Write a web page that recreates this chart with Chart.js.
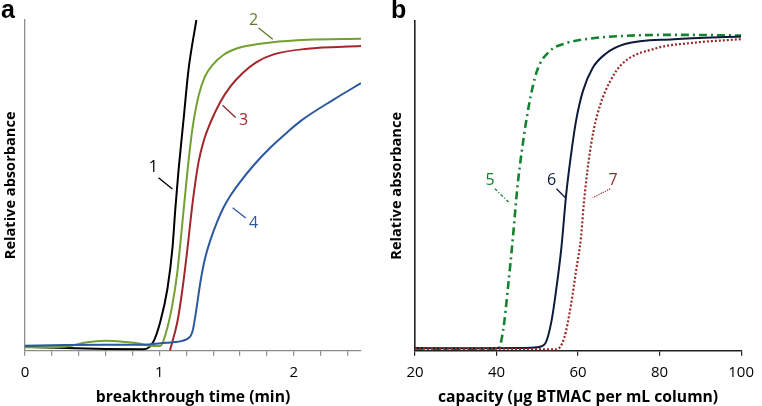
<!DOCTYPE html>
<html><head><meta charset="utf-8">
<script src="https://cdn.jsdelivr.net/npm/chart.js@4.4.1/dist/chart.umd.min.js"></script>
<style>
html,body{margin:0;padding:0;background:#fff;}
body{width:762px;height:406px;overflow:hidden;position:relative;}
.panel{position:absolute;top:0;width:381px;height:406px;}
</style></head><body>
<div class="panel" style="left:0"><canvas id="ca" width="381" height="406"></canvas></div>
<div class="panel" style="left:381px"><canvas id="cb" width="381" height="406"></canvas></div>
<script>
// ---------- Panel a: breakthrough time (min) vs relative absorbance ----------
const timeTicks = [0, 0.2, 0.4, 0.6, 0.8, 1, 1.2, 1.4, 1.6, 1.8, 2, 2.2, 2.4];
const timeTickLabels = ['0', '', '', '', '', '1', '', '', '', '', '2', '', ''];

const time1 = [0, 0.3, 0.6, 0.881, 0.955, 1.007, 1.06, 1.097, 1.119, 1.142, 1.179, 1.216, 1.275];
const abs1  = [0.012, 0.008, 0.005, 0.004, 0.027, 0.088, 0.188, 0.31, 0.432, 0.544, 0.696, 0.848, 1.0];

const time2 = [0, 0.3, 0.45, 0.6, 0.75, 0.858, 0.95, 1.007, 1.045, 1.097, 1.134, 1.172, 1.209, 1.246, 1.291, 1.34, 1.4, 1.478, 1.57, 1.657, 1.828, 2.1, 2.5];
const abs2  = [0.01, 0.012, 0.025, 0.03, 0.026, 0.021, 0.014, 0.014, 0.049, 0.14, 0.24, 0.392, 0.544, 0.672, 0.77, 0.83, 0.866, 0.895, 0.913, 0.922, 0.932, 0.94, 0.943];

const time3 = [1.078, 1.134, 1.172, 1.209, 1.246, 1.291, 1.33, 1.38, 1.45, 1.53, 1.62, 1.72, 1.85, 2.1, 2.5];
const abs3  = [0, 0.088, 0.188, 0.31, 0.444, 0.57, 0.635, 0.69, 0.75, 0.8, 0.84, 0.872, 0.896, 0.913, 0.921];

const time4 = [0, 0.3, 0.6, 0.858, 1.05, 1.209, 1.246, 1.269, 1.306, 1.34, 1.38, 1.43, 1.48, 1.53, 1.6, 1.7, 1.828, 1.95, 2.052, 2.299, 2.5];
const abs4  = [0.015, 0.017, 0.018, 0.018, 0.024, 0.036, 0.058, 0.109, 0.21, 0.28, 0.335, 0.39, 0.435, 0.47, 0.51, 0.56, 0.615, 0.66, 0.695, 0.76, 0.809];

// ---------- Panel b: capacity vs relative absorbance ----------
const capTicks = [20, 40, 60, 80, 100];
const capTickLabels = ['20', '40', '60', '80', '100'];

const cap5 = [20, 30, 39, 40.4, 41.6, 42.8, 44.0, 45.1, 46.3, 48.0, 49.9, 53.1, 57.1, 61.9, 71.5, 85, 100];
const abs5 = [0.006, 0.006, 0.006, 0.006, 0.06, 0.191, 0.342, 0.494, 0.615, 0.748, 0.848, 0.909, 0.933, 0.945, 0.955, 0.958, 0.956];

const cap6 = [20, 35, 47, 49.9, 51.9, 53.5, 54.7, 55.9, 57.1, 58.3, 59.5, 61.2, 63.6, 66.7, 71.5, 83.5, 100];
const abs6 = [0.008, 0.007, 0.008, 0.01, 0.021, 0.091, 0.191, 0.312, 0.476, 0.597, 0.697, 0.788, 0.858, 0.9, 0.93, 0.945, 0.953];

const cap7 = [20, 40, 54.7, 56.6, 58.3, 59.5, 60.7, 61.4, 62.6, 63.8, 65.5, 67.9, 70.8, 79.4, 87.5, 100];
const abs7 = [0.006, 0.006, 0.004, 0.039, 0.142, 0.242, 0.342, 0.445, 0.576, 0.667, 0.748, 0.818, 0.87, 0.918, 0.933, 0.945];

// curve label annotations (data units): text position, leader start/end
const labelsA = [
  {text: '1', at: [0.955, 0.553], line: [0.993, 0.523, 1.097, 0.489], color: '#000000'},
  {text: '2', at: [1.701, 1.0],   line: [1.739, 0.976, 1.843, 0.942], color: '#5e7a2a'},
  {text: '3', at: [1.627, 0.696], line: [1.470, 0.742, 1.567, 0.705], color: '#a3262a'},
  {text: '4', at: [1.701, 0.386], line: [1.545, 0.432, 1.642, 0.401], color: '#2b58a0'}
];
const labelsB = [
  {text: '5', at: [38.4, 0.515], line: [39.6, 0.491, 43.2, 0.448], color: '#15822f', dash: [3, 2, 1, 2]},
  {text: '6', at: [53.5, 0.515], line: [54.7, 0.491, 56.9, 0.464], color: '#0d1a3c'},
  {text: '7', at: [68.6, 0.515], line: [67.9, 0.491, 63.6, 0.464], color: '#9a2a2a', dash: [1.2, 1.2]}
];

Chart.defaults.font.family = "'Open Sans', sans-serif";
Chart.defaults.color = '#000';

const curveLabels = {
  id: 'curveLabels',
  afterDatasetsDraw(chart, args, opts) {
    const {ctx} = chart;
    const x = chart.scales.x, y = chart.scales.y;
    ctx.save();
    for (const a of opts.items) {
      ctx.strokeStyle = a.color;
      ctx.lineWidth = 1.3;
      ctx.setLineDash(a.dash || []);
      ctx.beginPath();
      ctx.moveTo(x.getPixelForValue(a.line[0]), y.getPixelForValue(a.line[1]));
      ctx.lineTo(x.getPixelForValue(a.line[2]), y.getPixelForValue(a.line[3]));
      ctx.stroke();
      ctx.setLineDash([]);
      ctx.fillStyle = a.color;
      ctx.font = "16px 'Open Sans'";
      ctx.textAlign = 'center';
      ctx.textBaseline = 'middle';
      ctx.fillText(a.text, x.getPixelForValue(a.at[0]), y.getPixelForValue(a.at[1]));
    }
    ctx.fillStyle = '#000';
    ctx.font = "bold 25px 'Liberation Sans'";
    ctx.textAlign = 'left';
    ctx.textBaseline = 'alphabetic';
    ctx.fillText(opts.letter, opts.letterX, 18);
    ctx.restore();
  }
};

function series(xs, ys, color, extra) {
  return Object.assign({
    data: xs.map((v, i) => ({x: v, y: ys[i]})),
    borderColor: color,
    borderWidth: 2,
    pointRadius: 0,
    fill: false,
    cubicInterpolationMode: 'monotone'
  }, extra || {});
}

function makeOptions(cfg) {
  return {
    responsive: false,
    animation: false,
    devicePixelRatio: 1,
    layout: {padding: cfg.padding},
    plugins: {
      legend: {display: false},
      tooltip: {enabled: false},
      curveLabels: {items: cfg.labels, letter: cfg.letter, letterX: cfg.letterX}
    },
    scales: {
      x: {
        type: 'linear',
        min: cfg.xmin, max: cfg.xmax,
        afterBuildTicks: s => { s.ticks = cfg.ticks.map(v => ({value: v})); },
        ticks: {autoSkip: false, maxRotation: 0, padding: 8, color: '#000', font: {size: 15},
                callback: (v, i) => cfg.tickLabels[i]},
        grid: {drawOnChartArea: false, drawTicks: true, tickLength: 5, color: cfg.axisColor, lineWidth: 1.2},
        border: {display: true, color: cfg.axisColor, width: cfg.axisWidth},
        title: {display: true, text: cfg.xTitle, color: '#000', font: {size: 15.7, weight: 'bold'},
                padding: {top: -1.5, bottom: -1}}
      },
      y: {
        min: 0, max: 1,
        ticks: {display: false},
        grid: {display: false, drawTicks: false},
        border: {display: true, color: cfg.axisColor, width: cfg.axisWidth},
        title: {display: true, text: 'Relative absorbance', color: '#000', font: {size: 14.6, weight: 'bold'},
                padding: cfg.yTitlePad}
      }
    }
  };
}

new Chart(document.getElementById('ca'), {
  type: 'line',
  data: {datasets: [
    series(time4, abs4, '#2b58a0'),
    series(time3, abs3, '#a3262a'),
    series(time2, abs2, '#72a032'),
    series(time1, abs1, '#000000')
  ]},
  options: makeOptions({
    padding: {left: 0, right: 20, top: 20, bottom: 0},
    xmin: 0, xmax: 2.5, ticks: timeTicks, tickLabels: timeTickLabels,
    axisColor: '#8c8c8c', axisWidth: 1.3,
    xTitle: 'breakthrough time (min)',
    yTitlePad: {top: 1.7, bottom: 5.8},
    labels: labelsA, letter: 'a', letterX: 1
  }),
  plugins: [curveLabels]
});

new Chart(document.getElementById('cb'), {
  type: 'line',
  data: {datasets: [
    series(cap7, abs7, '#9a2a2a', {borderDash: [2, 2], borderWidth: 2.2}),
    series(cap6, abs6, '#0d1a3c', {borderWidth: 2}),
    series(cap5, abs5, '#15822f', {borderDash: [8, 4, 2, 4], borderWidth: 2.6})
  ]},
  options: makeOptions({
    padding: {left: 0, right: 13, top: 21, bottom: 0},
    xmin: 20, xmax: 100, ticks: capTicks, tickLabels: capTickLabels,
    axisColor: '#222222', axisWidth: 1.6,
    xTitle: 'capacity (µg BTMAC per mL column)',
    yTitlePad: {top: 6.8, bottom: 9.7},
    labels: labelsB, letter: 'b', letterX: 10
  }),
  plugins: [curveLabels]
});
</script>
</body></html>
